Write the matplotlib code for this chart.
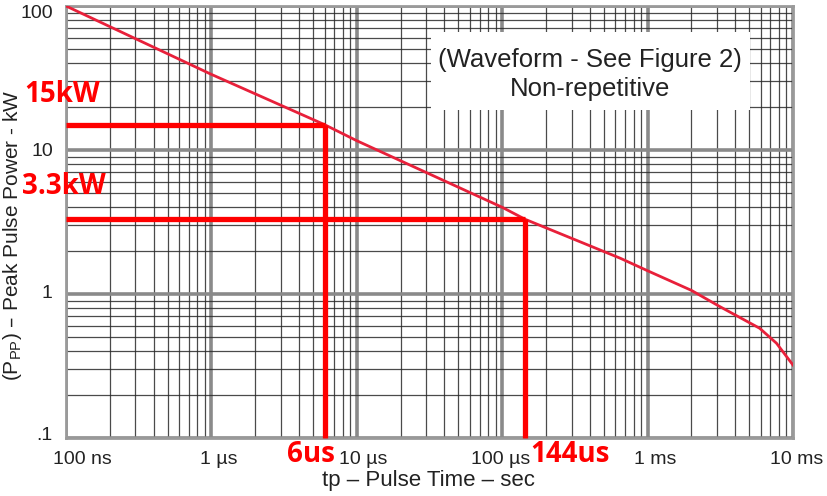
import numpy as np
import matplotlib
matplotlib.use('Agg')
import matplotlib.pyplot as plt
import matplotlib.transforms as mtransforms
from matplotlib.patches import Rectangle
from matplotlib.ticker import FixedLocator, NullFormatter

plt.rcParams['font.family'] = ['Liberation Sans', 'DejaVu Sans']

#%% data
pulse_time = [1e-7, 1e-6, 6e-6, 1e-5, 1e-4, 1.44e-4, 6.5e-4, 1e-3, 2e-3, 3.15e-3, 5.9e-3, 7.7e-3, 1e-2]
peak_power = [100, 33.5, 15, 11.6, 4.0, 3.3, 1.77, 1.45, 1.06, 0.816, 0.578, 0.455, 0.321]

x_ticks = [1e-7, 1e-6, 1e-5, 1e-4, 1e-3, 1e-2]
x_labels = ['100 ns', '1 µs', '10 µs', '100 µs', '1 ms', '10 ms']
y_ticks = [0.1, 1, 10, 100]
y_labels = ['.1', '1', '10', '100']

# marked operating points
mark_time = [6e-6, 1.44e-4]
mark_power = [15, 3.3]
mark_power_txt = ['15kW', '3.3kW']
mark_time_txt = ['6us', '144us']

W, H = 827, 496

#%% figure
fig = plt.figure(figsize=(8.27, 4.96), dpi=100)
ax = fig.add_axes([66 / W, 1 - 438 / H, 727 / W, 432 / H])
ax.set_xscale('log')
ax.set_yscale('log')
ax.set_xlim(1e-7, 1e-2)
ax.set_ylim(0.1, 100)

minor_x = [m * 10.0**e for e in range(-7, -2) for m in range(2, 10)]
minor_y = [m * 10.0**e for e in range(-1, 2) for m in range(2, 10)]
ax.xaxis.set_major_locator(FixedLocator(x_ticks))
ax.yaxis.set_major_locator(FixedLocator(y_ticks))
ax.xaxis.set_minor_locator(FixedLocator(minor_x))
ax.yaxis.set_minor_locator(FixedLocator(minor_y))
ax.xaxis.set_minor_formatter(NullFormatter())
ax.yaxis.set_minor_formatter(NullFormatter())
ax.set_xticklabels(x_labels)
ax.set_yticklabels(y_labels)
ax.tick_params(which='both', length=0, labelsize=14, colors='#222222')
ax.tick_params(axis='x', pad=9)
ax.tick_params(axis='y', pad=9.5)

# the scanned labels sit a little off their ticks
for lab, dx in zip(ax.get_xticklabels(), [16, 7, 6, -2, 8, 4]):
    lab.set_transform(lab.get_transform() + mtransforms.ScaledTranslation(dx / 100, 0, fig.dpi_scale_trans))
for lab, dy in zip(ax.get_yticklabels(), [4, 3, 0, -5]):
    lab.set_transform(lab.get_transform() + mtransforms.ScaledTranslation(0, dy / 100, fig.dpi_scale_trans))

ax.grid(which='major', color='#8a8a8a', lw=2.6)
ax.grid(which='minor', color='#2a2a2a', lw=0.9, alpha=0.85)
for s in ax.spines.values():
    s.set_color('#9a9a9a')
    s.set_linewidth(2)

ax.plot(pulse_time, peak_power, color='#e8203a', lw=2, zorder=5)

# white box with note
box = Rectangle((431 / W, 1 - 110 / H), 319 / W, 78 / H, transform=fig.transFigure,
                facecolor='white', edgecolor='none', zorder=3)
ax.add_patch(box)
fig.text(590 / W, 1 - 60 / H, '(Waveform - See Figure 2)', ha='center', va='center',
         fontsize=18.5, color='#222222', zorder=6)
fig.text(590 / W, 1 - 89 / H, 'Non-repetitive', ha='center', va='center',
         fontsize=18.5, color='#222222', zorder=6)

# red marker lines
for t, p in zip(mark_time, mark_power):
    ax.plot([1e-7, t], [p, p], color='#ff0000', lw=3.8, solid_capstyle='butt', zorder=7, clip_on=False)
    ax.plot([t, t], [0.1, p], color='#ff0000', lw=3.8, solid_capstyle='butt', zorder=7, clip_on=False)

red_font = dict(color='#ff0000', fontsize=20, fontweight='bold', family='Open Sans',
                ha='center', va='center', zorder=10)
fig.text(62 / W, 1 - 95 / H, mark_power_txt[0], **red_font)
fig.text(64 / W, 1 - 186 / H, mark_power_txt[1], **red_font)
fig.text(311 / W, 1 - 455 / H, mark_time_txt[0], **red_font)
fig.text(570 / W, 1 - 455 / H, mark_time_txt[1], **red_font)

ax.set_xlabel('tp – Pulse Time – sec', fontsize=16, color='#222222')
ax.set_ylabel(r'(P$_{\mathregular{PP}}$) – Peak Pulse Power - kW', fontsize=15, color='#222222')
ax.xaxis.set_label_coords((428 - 66) / 727, (438 - 470) / 432)
ax.yaxis.set_label_coords((24 - 66) / 727, (438 - 235) / 432)

fig.savefig('out.png', dpi=100)
